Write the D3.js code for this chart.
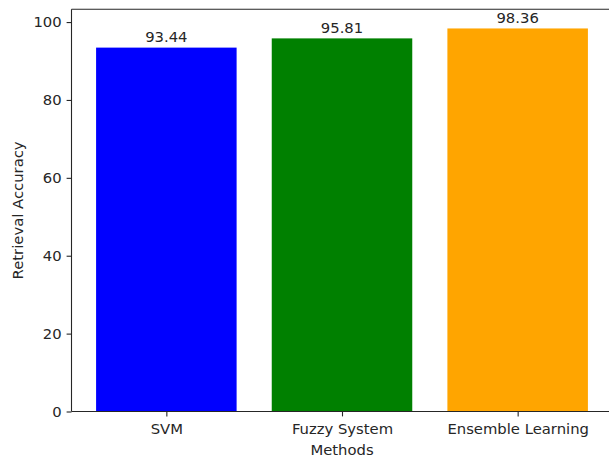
<!DOCTYPE html>
<html><head><meta charset="utf-8">
<script src="https://cdn.jsdelivr.net/npm/d3@7"></script>
<style>body{margin:0;background:#fff}svg{display:block}text{font-family:"DejaVu Sans",sans-serif;fill:#262626}</style>
</head><body><div id="chart"></div>
<script>
const categories = ["SVM", "Fuzzy System", "Ensemble Learning"];
const values = [93.44, 95.81, 98.36];
const barColors = ["#0000ff", "#008000", "#ffa500"];
const yTicks = [0, 20, 40, 60, 80, 100];

(function () {
const W = 609, H = 458;
const mLeft = 71.5, mRight = 612.5, mTop = 9.3, mBottom = 411.5;
const fs = 14.8;

const svg = d3.select("#chart").append("svg").attr("width", W).attr("height", H);

const x = d3.scaleLinear().domain([-0.54, categories.length - 1 + 0.54]).range([mLeft, mRight]);
const y = d3.scaleLinear().domain([0, d3.max(values) * 1.05]).range([mBottom, mTop]);
const bw = 0.8;

svg.selectAll("rect.bar").data(values).enter().append("rect")
  .attr("class", "bar")
  .attr("x", (d, i) => x(i - bw / 2))
  .attr("width", (d, i) => x(i + bw / 2) - x(i - bw / 2))
  .attr("y", d => y(d))
  .attr("height", d => y(0) - y(d))
  .attr("fill", (d, i) => barColors[i]);

svg.selectAll("text.val").data(values).enter().append("text")
  .attr("class", "val")
  .attr("x", (d, i) => x(i))
  .attr("y", d => y(d) - 5.5)
  .attr("text-anchor", "middle")
  .style("font-size", fs + "px")
  .text(d => d.toFixed(2));

const yAxis = d3.axisLeft(y).tickValues(yTicks).tickSize(4.9).tickPadding(4.9).tickFormat(d3.format("d"));
const gy = svg.append("g").attr("transform", `translate(${mLeft},0)`).call(yAxis);
gy.select(".domain").remove();
gy.selectAll("line").attr("stroke", "#262626").attr("stroke-width", 1.1);
gy.selectAll("text").style("font-size", fs + "px").attr("font-family", "DejaVu Sans").attr("fill", "#262626");

const xAxis = d3.axisBottom(x).tickValues(categories.map((c, i) => i)).tickFormat(i => categories[i]).tickSize(4.9).tickPadding(7);
const gx = svg.append("g").attr("transform", `translate(0,${mBottom})`).call(xAxis);
gx.select(".domain").remove();
gx.selectAll("line").attr("stroke", "#262626").attr("stroke-width", 1.1);
gx.selectAll("text").style("font-size", fs + "px").attr("font-family", "DejaVu Sans").attr("fill", "#262626");

const sp = svg.append("g").attr("fill", "none").attr("stroke", "#262626").attr("stroke-width", 1.1);
sp.append("line").attr("x1", mLeft).attr("x2", mLeft).attr("y1", mTop).attr("y2", mBottom);
sp.append("line").attr("x1", mLeft).attr("x2", mRight).attr("y1", mBottom).attr("y2", mBottom);
sp.append("line").attr("x1", mLeft).attr("x2", mRight).attr("y1", mTop).attr("y2", mTop);
sp.append("line").attr("x1", mRight).attr("x2", mRight).attr("y1", mTop).attr("y2", mBottom);

svg.append("text").attr("x", (mLeft + mRight) / 2).attr("y", 455)
  .attr("text-anchor", "middle").style("font-size", fs + "px").text("Methods");
svg.append("text").attr("transform", `translate(22.5,${(mTop + mBottom) / 2}) rotate(-90)`)
  .attr("text-anchor", "middle").style("font-size", fs + "px").text("Retrieval Accuracy");
})();
</script></body></html>
